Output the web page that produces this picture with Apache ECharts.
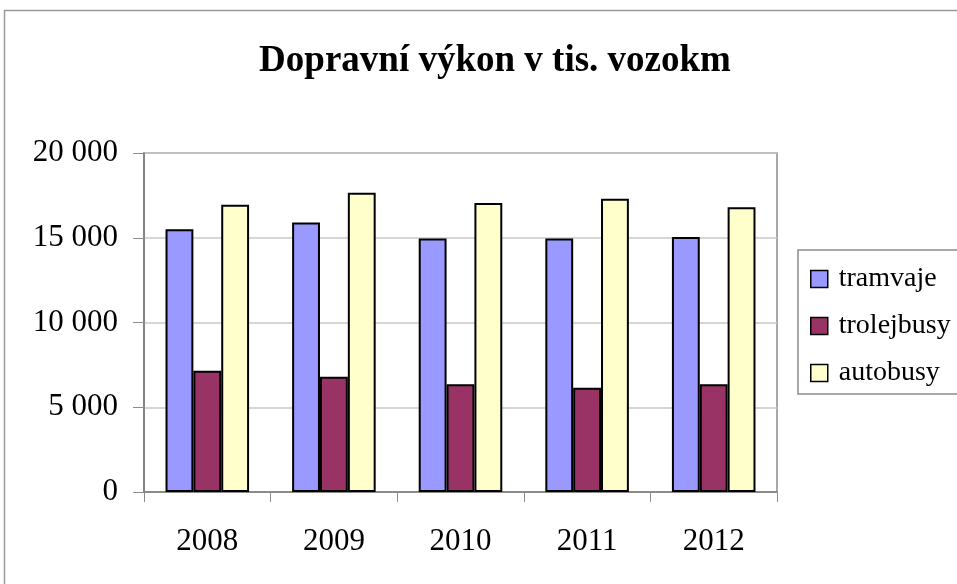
<!DOCTYPE html>
<html>
<head>
<meta charset="utf-8">
<script src="https://cdn.jsdelivr.net/npm/echarts@6/dist/echarts.min.js"></script>
<style>
  html, body { margin: 0; padding: 0; background: #fff; }
  #chart { width: 957px; height: 584px; }
</style>
</head>
<body>
<div id="chart"></div>
<script>
// data
var years = ['2008', '2009', '2010', '2011', '2012'];
var tramvaje = [15500, 15900, 14950, 14950, 15050];
var trolejbusy = [7150, 6800, 6350, 6150, 6350];
var autobusy = [16950, 17650, 17050, 17300, 16800];
var yTicks = [0, 5000, 10000, 15000, 20000];

var serif = "'Liberation Serif', 'Times New Roman', serif";

var chart = echarts.init(document.getElementById('chart'), null, { renderer: 'canvas' });

function barSeries(name, data, color) {
  return {
    name: name,
    type: 'bar',
    data: data,
    barGap: '0%',
    barCategoryGap: '34%',
    itemStyle: {
      color: color,
      borderColor: '#000',
      borderWidth: 2
    },
    animation: false
  };
}

chart.setOption({
  backgroundColor: '#fff',
  title: {
    text: 'Dopravní výkon v tis. vozokm',
    left: 490,
    textAlign: 'center',
    top: 38,
    textStyle: {
      fontFamily: serif,
      fontSize: 37,
      fontWeight: 'bold',
      color: '#000'
    }
  },
  grid: {
    left: 144,
    right: 180,
    top: 153,
    bottom: 92,
    show: true,
    borderColor: '#8c8c8c',
    borderWidth: 1.5
  },
  legend: {
    orient: 'vertical',
    left: 798,
    top: 250,
    itemWidth: 17,
    itemHeight: 17,
    itemGap: 19,
    padding: [15, 40, 7, 12],
    borderColor: '#8c8c8c',
    borderWidth: 1.5,
    icon: 'rect',
    itemStyle: { borderColor: '#000', borderWidth: 1.5 },
    textStyle: {
      fontFamily: serif,
      fontSize: 28,
      color: '#000',
      padding: [0, 0, 0, 6]
    },
    data: ['tramvaje', 'trolejbusy', 'autobusy']
  },
  xAxis: {
    type: 'category',
    data: years,
    axisLine: { lineStyle: { color: '#7a7a7a', width: 1.5 } },
    axisTick: { show: true, length: 10, lineStyle: { color: '#8c8c8c' } },
    axisLabel: {
      margin: 34,
      fontFamily: serif,
      fontSize: 31,
      color: '#000'
    }
  },
  yAxis: {
    type: 'value',
    min: yTicks[0],
    max: yTicks[yTicks.length - 1],
    interval: yTicks[1] - yTicks[0],
    axisLine: { show: true, lineStyle: { color: '#7a7a7a', width: 1.5 } },
    axisTick: { show: true, length: 11, lineStyle: { color: '#8c8c8c' } },
    splitLine: { lineStyle: { color: '#c8c8c8', width: 1.5 } },
    axisLabel: {
      margin: 26,
      fontFamily: serif,
      fontSize: 31,
      color: '#000',
      formatter: function (v) {
        return String(v).replace(/\B(?=(\d{3})+(?!\d))/g, ' ');
      }
    }
  },
  graphic: [{
    type: 'rect',
    silent: true,
    shape: { x: 4.5, y: 10.5, width: 1000, height: 1000 },
    style: { fill: null, stroke: '#999', lineWidth: 1.5 }
  }],
  series: [
    barSeries('tramvaje', tramvaje, '#9999ff'),
    barSeries('trolejbusy', trolejbusy, '#993366'),
    barSeries('autobusy', autobusy, '#ffffcc')
  ]
});
</script>
</body>
</html>
